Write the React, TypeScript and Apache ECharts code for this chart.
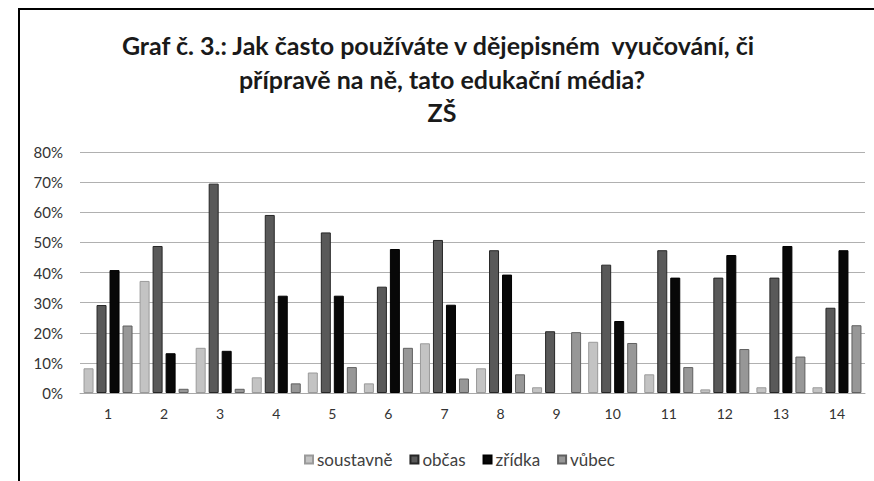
import React, { useEffect, useRef } from "react";
import * as echarts from "echarts";

const categories = ["1", "2", "3", "4", "5", "6", "7", "8", "9", "10", "11", "12", "13", "14"];
const soustavne = [8.2, 37.2, 15.0, 5.2, 6.8, 3.2, 16.5, 8.2, 1.9, 17.0, 6.2, 1.2, 1.9, 1.9];
const obcas = [29.2, 48.8, 69.5, 59.1, 53.3, 35.3, 50.8, 47.4, 20.5, 42.6, 47.4, 38.3, 38.3, 28.3];
const zridka = [40.8, 13.2, 14.0, 32.3, 32.3, 47.8, 29.3, 39.3, 0, 23.9, 38.3, 45.8, 48.8, 47.4];
const vubec = [22.4, 1.4, 1.4, 3.2, 8.6, 15.0, 4.8, 6.2, 20.2, 16.6, 8.6, 14.6, 12.1, 22.5];
const seriesNames = ["soustavně", "občas", "zřídka", "vůbec"];
const titleLines = [
  "Graf č. 3.: Jak často používáte v dějepisném  vyučování, či",
  "přípravě na ně, tato edukační média?",
  "ZŠ",
];

const fills = ["#c3c3c3", "#595959", "#080808", "#979797"];
const borders = ["#9a9a9a", "#262626", "#000000", "#606060"];

export default function App() {
  const ref = useRef<HTMLDivElement>(null);
  useEffect(() => {
    if (!ref.current) return;
    const chart = echarts.init(ref.current, null, { renderer: "svg" });
    const data = [soustavne, obcas, zridka, vubec];
    const titleFont = {
      fontFamily: "Lato",
      fontWeight: 700,
      fontSize: 25,
      fill: "#1a1a1a",
      textAlign: "center",
      textVerticalAlign: "middle",
    };
    chart.setOption({
      animation: false,
      backgroundColor: "#ffffff",
      textStyle: { fontFamily: "Lato" },
      graphic: [
        { type: "line", shape: { x1: 19, y1: 9, x2: 874, y2: 9 }, style: { stroke: "#000", lineWidth: 2 } },
        { type: "line", shape: { x1: 19, y1: 8, x2: 19, y2: 481 }, style: { stroke: "#000", lineWidth: 2 } },
        { type: "text", x: 438, y: 45, style: { ...titleFont, text: titleLines[0] } },
        { type: "text", x: 442, y: 79, style: { ...titleFont, text: titleLines[1] } },
        { type: "text", x: 442, y: 112, style: { ...titleFont, text: titleLines[2] } },
      ],
      legend: {
        left: 299,
        top: 446,
        icon: "rect",
        itemWidth: 8,
        itemHeight: 8,
        itemGap: 17,
        textStyle: { fontFamily: "Lato", fontSize: 17, color: "#404040", padding: [0, 0, 0, -1] },
        data: seriesNames,
      },
      grid: { left: 80, right: 9, top: 152, bottom: 88, containLabel: false },
      xAxis: {
        type: "category",
        data: categories,
        axisLine: { show: true, lineStyle: { color: "#a8a8a8", width: 1 } },
        axisTick: { show: false },
        axisLabel: { fontFamily: "Lato", fontSize: 14, color: "#333", margin: 13 },
      },
      yAxis: {
        type: "value",
        min: 0,
        max: 80,
        interval: 10,
        axisLine: { show: false },
        axisTick: { show: false },
        axisLabel: { formatter: "{value}%", fontFamily: "Lato", fontSize: 15, color: "#333", margin: 17 },
        splitLine: { lineStyle: { color: "#b0b0b0", width: 1 } },
      },
      series: seriesNames.map((name, i) => ({
        name,
        type: "bar",
        data: data[i].map((v) => (v === 0 ? { value: v, itemStyle: { borderWidth: 0 } } : v)),
        barWidth: 10,
        barGap: "30%",
        itemStyle: { color: fills[i], borderColor: borders[i], borderWidth: 1 },
      })),
    });
    return () => chart.dispose();
  }, []);
  return (
    <div
      ref={ref}
      style={{ position: "fixed", left: 0, top: 0, width: 874, height: 481 }}
    />
  );
}
